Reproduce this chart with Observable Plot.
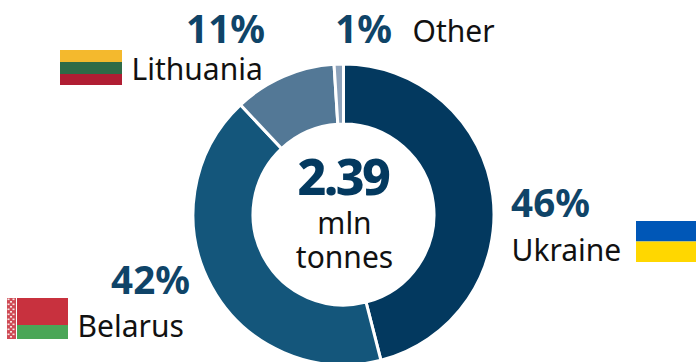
<!DOCTYPE html>
<html>
<head>
<meta charset="utf-8">
<script src="https://cdn.jsdelivr.net/npm/d3@7"></script>
<script src="https://cdn.jsdelivr.net/npm/@observablehq/plot@0.6"></script>
<style>
  html, body { margin: 0; padding: 0; background: #fff; }
  svg { display: block; }
  .total-value text { letter-spacing: -2.5px; }
</style>
</head>
<body>
<script>
// Import shares by supplier country
const countries = ["Ukraine", "Belarus", "Lithuania", "Other"];
const shares = [46, 42, 11, 1];
const sliceColors = ["#03395f", "#14567b", "#537896", "#8ea3bb"];
const totalValue = "2.39";
const totalUnit = ["mln", "tonnes"];

// Page layout for the ring and its annotations
const ring = {cx: 343.5, cy: 214.5, outer: 150.5, inner: 90.5};
const shareLabels = [
  {text: "46%", x: 550, y: 204},
  {text: "42%", x: 150, y: 281},
  {text: "11%", x: 225, y: 30},
  {text: "1%", x: 363, y: 30}
];
const nameLabels = [
  {text: "Ukraine", x: 511, y: 251},
  {text: "Belarus", x: 77, y: 327},
  {text: "Lithuania", x: 131, y: 70},
  {text: "Other", x: 412, y: 32}
];
const flagBands = [
  {x1: 636, x2: 696, y1: 221, y2: 241.5, fill: "#0057b7"},
  {x1: 636, x2: 696, y1: 241.5, y2: 262, fill: "#ffd700"},
  {x1: 60, x2: 122, y1: 50, y2: 62, fill: "#f4b92d"},
  {x1: 60, x2: 122, y1: 62, y2: 74, fill: "#2f6b47"},
  {x1: 60, x2: 122, y1: 74, y2: 85, fill: "#b01e33"},
  {x1: 17, x2: 68, y1: 298, y2: 325, fill: "#c8313e"},
  {x1: 17, x2: 68, y1: 325, y2: 339, fill: "#4aa657"},
  {x1: 7, x2: 16, y1: 298, y2: 339, fill: "#cf4a55"}
];
// Ornament stripe on the hoist side of the Belarus flag
const ornamentRows = d3.range(298.5, 338, 2.5);
const ornamentCols = [7.5, 10, 12.5];
const ornament = ornamentRows.flatMap((y, i) =>
  ornamentCols.filter((_, j) => (i + j) % 2 === 0).map(x => ({x, y})));

const font = "'Noto Sans', sans-serif";

// Donut drawn from the share values; slices run clockwise from twelve o'clock
function donut(index, {x, y}) {
  const pie = d3.pie().sort(null)(shares);
  const arc = d3.arc()
    .innerRadius(ring.inner)
    .outerRadius(ring.outer);
  const g = d3.create("svg:g")
    .attr("transform", `translate(${x(ring.cx)},${y(ring.cy)})`);
  g.selectAll("path")
    .data(pie)
    .join("path")
    .attr("d", arc)
    .attr("fill", (d, i) => sliceColors[i])
    .attr("stroke", "#fff")
    .attr("stroke-width", 3);
  return g.node();
}

const chart = Plot.plot({
  width: 696,
  height: 362,
  margin: 0,
  x: {domain: [0, 696], range: [0, 696], axis: null},
  y: {domain: [0, 362], range: [0, 362], axis: null},
  style: {fontFamily: font, background: "#fff"},
  marks: [
    Plot.rect(flagBands, {x1: "x1", x2: "x2", y1: "y1", y2: "y2", fill: d => d.fill}),
    Plot.rect(ornament, {x1: "x", x2: d => d.x + 2, y1: "y", y2: d => d.y + 1.6, fill: "#f7e6e4"}),
    donut,
    Plot.text(shareLabels, {x: "x", y: "y", text: "text", fontSize: 38.5, fontWeight: 700, fill: "#0f4468", textAnchor: "middle"}),
    Plot.text(nameLabels, {x: "x", y: "y", text: "text", fontSize: 30, fill: "#111", textAnchor: "start"}),
    Plot.text([totalValue], {x: [342.5], y: [178], text: d => d, fontSize: 50, fontWeight: 800, fill: "#03395f", textAnchor: "middle", className: "total-value"}),
    Plot.text(totalUnit, {x: [344, 344], y: [224, 258], text: d => d, fontSize: 30, fill: "#111", textAnchor: "middle"})
  ]
});
document.body.append(chart);
</script>
</body>
</html>
